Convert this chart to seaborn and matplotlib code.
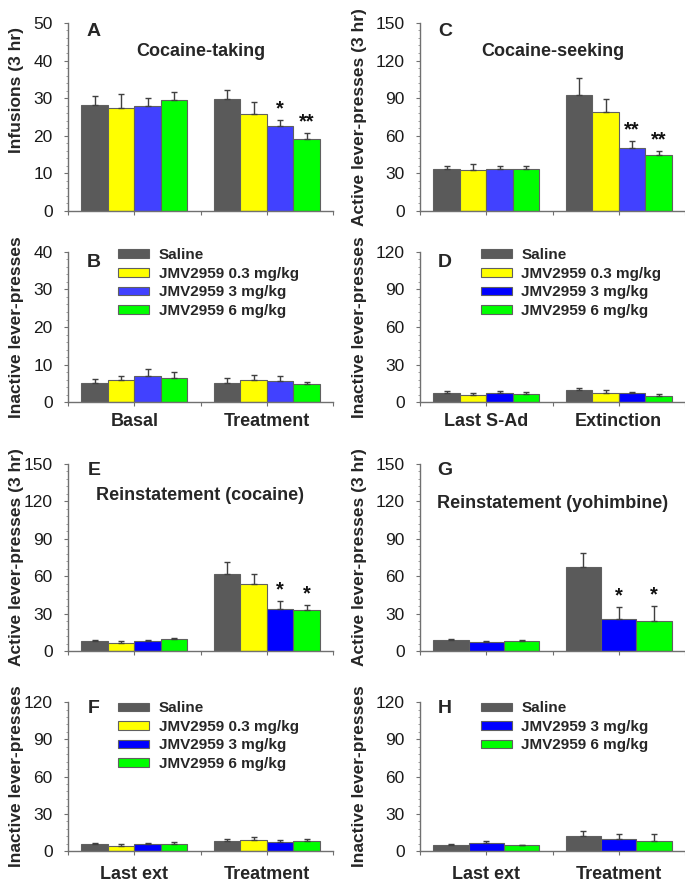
import numpy as np
import pandas as pd
import matplotlib.pyplot as plt
import seaborn as sns
from matplotlib.patches import Patch
from matplotlib.ticker import MultipleLocator, AutoMinorLocator

sns.set_style('white')
plt.rcParams['font.family'] = ['Liberation Sans', 'DejaVu Sans']

groups4 = ['Saline', 'JMV2959 0.3 mg/kg', 'JMV2959 3 mg/kg', 'JMV2959 6 mg/kg']
groups3 = ['Saline', 'JMV2959 3 mg/kg', 'JMV2959 6 mg/kg']

colors_ab = ['#5a5a5a', '#ffff00', '#4141ff', '#00ff00']
colors4 = ['#5a5a5a', '#ffff00', '#0000ff', '#00ff00']
colors3 = ['#5a5a5a', '#0000ff', '#00ff00']

days_ab = ['Basal', 'Treatment']
days_cd = ['Last S-Ad', 'Extinction']
days_ef = ['Last ext', 'Treatment']

# means / SEM, one inner list per day, groups in legend order
a_mean = [[28.2, 27.4, 28.0, 29.4], [29.8, 25.9, 22.6, 19.1]]
a_sem = [[2.5, 3.7, 2.0, 2.3], [2.4, 3.0, 1.6, 1.6]]
b_mean = [[5.0, 5.9, 7.0, 6.5], [5.2, 5.9, 5.6, 4.8]]
b_sem = [[1.1, 1.1, 1.8, 1.6], [1.2, 1.4, 1.3, 0.6]]
c_mean = [[33.6, 33.0, 33.3, 33.3], [92.5, 78.6, 50.4, 44.5]]
c_sem = [[2.6, 4.3, 2.4, 2.4], [13.5, 10.9, 5.6, 3.2]]
d_mean = [[7.6, 5.9, 7.3, 6.7], [10.0, 7.0, 7.0, 5.1]]
d_sem = [[1.6, 1.1, 1.9, 1.4], [1.6, 2.4, 1.4, 1.1]]
e_mean = [[7.7, 6.4, 7.7, 9.3], [62.1, 54.1, 33.6, 32.5]]
e_sem = [[0.8, 1.3, 1.1, 1.4], [9.3, 7.4, 6.4, 4.8]]
f_mean = [[5.6, 4.3, 5.4, 5.6], [8.1, 8.9, 7.3, 7.8]]
f_sem = [[0.9, 1.3, 1.3, 1.4], [1.3, 2.1, 1.3, 2.2]]
g_mean = [[8.5, 6.9, 7.7], [67.4, 25.8, 24.0]]
g_sem = [[1.1, 1.4, 1.1], [11.2, 9.6, 12.0]]
h_mean = [[4.6, 6.2, 4.6], [12.4, 9.7, 8.1]]
h_sem = [[0.8, 1.9, 0.2], [3.5, 3.8, 5.9]]

# significance marks: (day index, group index, text)
a_stars = [(1, 2, '*'), (1, 3, '**')]
c_stars = [(1, 2, '**'), (1, 3, '**')]
e_stars = [(1, 2, '*'), (1, 3, '*')]
g_stars = [(1, 1, '*'), (1, 2, '*')]

fig = plt.figure(figsize=(6.85, 8.82), dpi=100)
col_left = [68 / 685, 420 / 685]
col_w = 265 / 685
rows = [(0.7608, 0.2132), (0.5442, 0.1701), (0.2619, 0.2120), (0.0351, 0.1689)]


def draw_panel(ax, days, groups, means, sems, colors, ymax, ystep, letter, letter_xy,
               title=None, title_y=0.84, ylabel='', ylabel_xy=(-0.2, 0.5), stars=(),
               legend_xy=None, show_days=False, xpad=5):
    df = pd.DataFrame({
        'day': np.repeat(days, len(groups)),
        'group': groups * len(days),
        'mean': np.ravel(means),
    })
    sns.barplot(data=df, x='day', y='mean', hue='group', order=days, hue_order=groups,
                palette=colors, saturation=1, width=0.8, gap=0, errorbar=None,
                legend=False, edgecolor='#606060', linewidth=0.8, ax=ax)
    bars = list(ax.containers[:len(groups)])

    # upper-only error bars taken from the bar positions
    for gi, cont in enumerate(bars):
        xs = [b.get_x() + b.get_width() / 2 for b in cont]
        tops = [b.get_height() for b in cont]
        errs = [sems[di][gi] for di in range(len(days))]
        ax.errorbar(xs, tops, yerr=[np.zeros(len(errs)), errs], fmt='none',
                    ecolor='#404040', elinewidth=1, capsize=2.5, capthick=1, zorder=3)
    for di, gi, txt in stars:
        bar = bars[gi][di]
        ax.annotate(txt, (bar.get_x() + bar.get_width() / 2, means[di][gi] + sems[di][gi]),
                    xytext=(0, 1), textcoords='offset points', ha='center', va='bottom',
                    fontsize=14.5, fontweight='bold', color='#111111')

    ax.set_xlim(-0.5, 1.5)
    ax.set_ylim(0, ymax)
    ax.yaxis.set_major_locator(MultipleLocator(ystep))
    ax.yaxis.set_minor_locator(AutoMinorLocator(5))
    ax.set_xticks([-0.5, 0, 0.5, 1, 1.5])
    if show_days:
        ax.set_xticklabels(['', days[0], '', days[1], ''], fontsize=13, fontweight='bold')
    else:
        ax.set_xticklabels([''] * 5)
    ax.tick_params(axis='x', direction='out', length=3, width=0.8, color='#707070',
                   pad=xpad, bottom=True)
    ax.tick_params(axis='y', which='major', direction='out', length=3, width=0.8,
                   color='#707070', labelsize=12.5, pad=8, left=True, labelcolor='#1a1a1a')
    ax.tick_params(axis='y', which='minor', direction='out', length=1.5, width=0.6,
                   color='#909090', left=True)
    for s in ['top', 'right']:
        ax.spines[s].set_visible(False)
    for s in ['left', 'bottom']:
        ax.spines[s].set_color('#707070')
        ax.spines[s].set_linewidth(1)
    ax.set_xlabel('')
    ax.set_ylabel(ylabel, fontsize=12.5, fontweight='bold')
    ax.yaxis.set_label_coords(*ylabel_xy)
    ax.yaxis.label.set_va('center')

    ax.text(letter_xy[0], letter_xy[1], letter, transform=ax.transAxes, ha='center',
            va='center', fontsize=14, fontweight='bold')
    if title:
        ax.text(0.5, title_y, title, transform=ax.transAxes, ha='center', va='center',
                fontsize=13, fontweight='bold')
    if legend_xy is not None:
        handles = [Patch(facecolor=c, edgecolor='#606060', linewidth=0.8) for c in colors]
        ax.legend(handles, groups, loc='upper left', bbox_to_anchor=legend_xy, frameon=False,
                  borderpad=0, borderaxespad=0, handlelength=2.0, handleheight=0.5,
                  handletextpad=0.65, labelspacing=0.3, prop={'weight': 'bold', 'size': 11})


lab1 = -0.196
lab2 = -0.230

ax_a = fig.add_axes([col_left[0], rows[0][0], col_w, rows[0][1]])
draw_panel(ax_a, days_ab, groups4, a_mean, a_sem, colors_ab, 50, 10, 'A', (0.098, 0.952),
           title='Cocaine-taking', title_y=0.846, ylabel='Infusions (3 hr)',
           ylabel_xy=(lab1, 0.644), stars=a_stars)

ax_b = fig.add_axes([col_left[0], rows[1][0], col_w, rows[1][1]])
draw_panel(ax_b, days_ab, groups4, b_mean, b_sem, colors_ab, 40, 10, 'B', (0.098, 0.933),
           ylabel='Inactive lever-presses', ylabel_xy=(lab1, 0.5),
           legend_xy=(0.189, 1.025), show_days=True)

ax_c = fig.add_axes([col_left[1], rows[0][0], col_w, rows[0][1]])
draw_panel(ax_c, days_cd, groups4, c_mean, c_sem, colors_ab, 150, 30, 'C', (0.094, 0.952),
           title='Cocaine-seeking', title_y=0.846, ylabel='Active lever-presses (3 hr)',
           ylabel_xy=(lab2, 0.5), stars=c_stars)

ax_d = fig.add_axes([col_left[1], rows[1][0], col_w, rows[1][1]])
draw_panel(ax_d, days_cd, groups4, d_mean, d_sem, colors4, 120, 30, 'D', (0.094, 0.933),
           ylabel='Inactive lever-presses', ylabel_xy=(lab2, 0.5),
           legend_xy=(0.23, 1.025), show_days=True)

ax_e = fig.add_axes([col_left[0], rows[2][0], col_w, rows[2][1]])
draw_panel(ax_e, days_ef, groups4, e_mean, e_sem, colors4, 150, 30, 'E', (0.098, 0.968),
           title='Reinstatement (cocaine)', title_y=0.834,
           ylabel='Active lever-presses (3 hr)', ylabel_xy=(lab1, 0.5), stars=e_stars)

ax_f = fig.add_axes([col_left[0], rows[3][0], col_w, rows[3][1]])
draw_panel(ax_f, days_ef, groups4, f_mean, f_sem, colors4, 120, 30, 'F', (0.098, 0.96),
           ylabel='Inactive lever-presses', ylabel_xy=(lab1, 0.5),
           legend_xy=(0.189, 1.005), show_days=True, xpad=8)

ax_g = fig.add_axes([col_left[1], rows[2][0], col_w, rows[2][1]])
draw_panel(ax_g, days_ef, groups3, g_mean, g_sem, colors3, 150, 30, 'G', (0.094, 0.968),
           title='Reinstatement (yohimbine)', title_y=0.79,
           ylabel='Active lever-presses (3 hr)', ylabel_xy=(lab2, 0.5), stars=g_stars)

ax_h = fig.add_axes([col_left[1], rows[3][0], col_w, rows[3][1]])
draw_panel(ax_h, days_ef, groups3, h_mean, h_sem, colors3, 120, 30, 'H', (0.094, 0.96),
           ylabel='Inactive lever-presses', ylabel_xy=(lab2, 0.5),
           legend_xy=(0.23, 1.005), show_days=True, xpad=8)

fig.savefig('out.png', dpi=100)
